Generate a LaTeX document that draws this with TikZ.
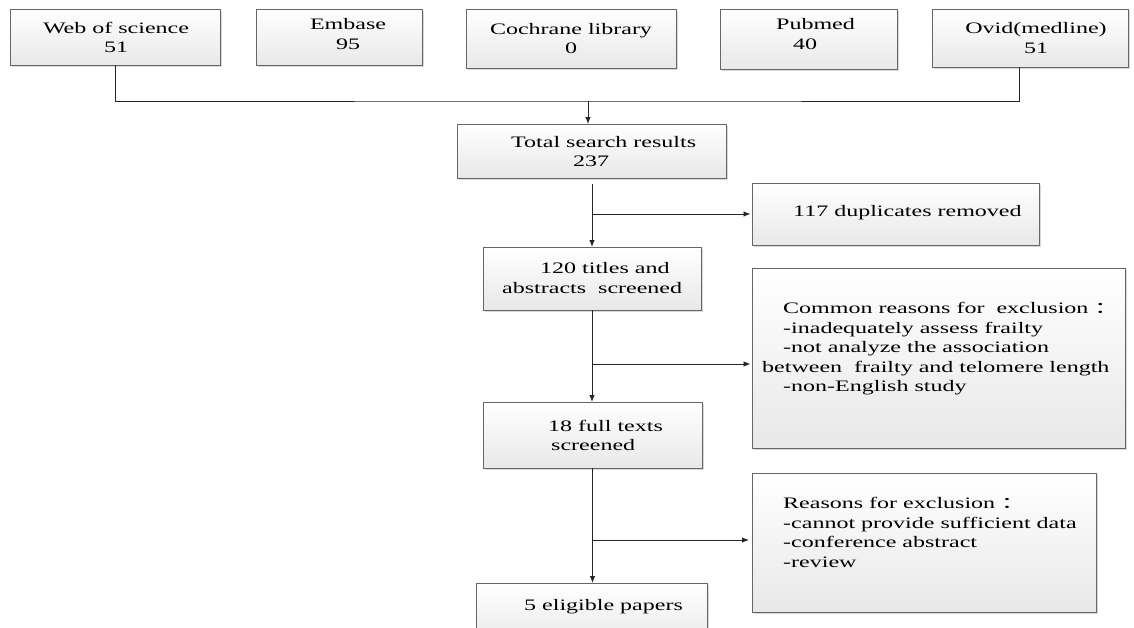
\documentclass[tikz,border=0pt]{standalone}
\usepackage{graphicx}
\usepackage{fontspec}
\setmainfont{Liberation Serif}
\newfontfamily\cjk{Noto Sans CJK SC}
\usetikzlibrary{arrows.meta,shadows,calc}
\newcommand{\sx}[1]{\scalebox{1.5}[1]{#1}}
\newcommand{\fcolon}{{\cjk ：}}
\begin{document}
\begin{tikzpicture}[x=1pt,y=-1pt,
  box/.style={draw=black!60, line width=0.9pt, inner sep=0pt, outer sep=0pt,
    top color=white, bottom color=black!9,
    drop shadow={shadow xshift=2pt, shadow yshift=-2pt, fill=black!30, opacity=0.5}},
  txt/.style={inner sep=0pt, font=\fontsize{16}{19.5}\selectfont, text=black},
  conn/.style={draw=black!85, line width=0.9pt},
  arr/.style={conn, -{Latex[length=7pt,width=5.5pt]}}]
\useasboundingbox (0,0) rectangle (1134,627);
\fill[white] (0,0) rectangle (1134,627);
\clip (0,0) rectangle (1134,627);

% boxes
\node[box, minimum width=210pt, minimum height=56pt] (web) at (115,37) {};
\node[box, minimum width=166pt, minimum height=56pt] (emb) at (339,37) {};
\node[box, minimum width=210pt, minimum height=59pt] (coch) at (571,38.5) {};
\node[box, minimum width=177pt, minimum height=60pt] (pub) at (808.5,39) {};
\node[box, minimum width=196pt, minimum height=58pt] (ovid) at (1030,38) {};
\node[box, minimum width=269pt, minimum height=54pt] (total) at (591.5,151) {};
\node[box, minimum width=287pt, minimum height=62pt] (dup) at (895.5,214) {};
\node[box, minimum width=218pt, minimum height=63pt] (b120) at (592,278.5) {};
\node[box, minimum width=373pt, minimum height=180pt] (common) at (938.5,358) {};
\node[box, minimum width=219pt, minimum height=66pt] (b18) at (592.5,435) {};
\node[box, minimum width=344pt, minimum height=139pt] (reasons) at (924,542.5) {};
\node[box, minimum width=231pt, minimum height=62pt] (elig) at (591.5,614) {};

% texts
\node[txt, align=center] (webT) at (116,37.5) {\sx{Web of science}\\\sx{51}};
\node[txt, align=center] (embT) at (348,34) {\sx{Embase}\\\sx{95}};
\node[txt, align=center] (cochT) at (571,38.5) {\sx{Cochrane library}\\\sx{0}};
\node[txt, align=left, anchor=west] (pubT) at (776,34) {\sx{Pubmed}\\\hspace*{17pt}\sx{40}};
\node[txt, align=center] (ovidT) at (1036,38) {\sx{Ovid(medline)}\\\sx{51}};
\node[txt, align=left, anchor=west] (totalT) at (511,151.5) {\sx{Total search results}\\\hspace*{62pt}\sx{237}};
\node[txt, anchor=west] (dupT) at (793,213) {\sx{117 duplicates removed}};
\node[txt, align=left, anchor=west] (b120T) at (502,278) {\hspace*{38pt}\sx{120 titles and}\\\sx{abstracts~ screened}};
\node[txt, align=left, anchor=west] (commonT) at (762,349) {%
  \hspace*{21pt}\sx{Common reasons for~ exclusion \fcolon}\\
  \hspace*{21pt}\sx{-inadequately assess frailty}\\
  \hspace*{21pt}\sx{-not analyze the association}\\
  \sx{between~ frailty and telomere length}\\
  \hspace*{21pt}\sx{-non-English study}};
\node[txt, align=left, anchor=west] (b18T) at (548,435.5) {\sx{18 full texts}\\\hspace*{3pt}\sx{screened}};
\node[txt, align=left, anchor=west] (reasonsT) at (783,532.5) {%
  \sx{Reasons for exclusion \fcolon}\\
  \sx{-cannot provide sufficient data}\\
  \sx{-conference abstract}\\
  \sx{-review}};
\node[txt, anchor=center] (eligT) at (603.5,607) {\sx{5 eligible papers}};

% connectors
\coordinate (j1) at (588,101);
\coordinate (ovidin) at ($(ovid.south west)+(87,0)$);
\draw[conn] (web.south) |- (j1) -| (ovidin);
\draw[arr] (j1) -- (j1 |- total.north);
\coordinate (t0) at ($(total.south)+(0.5,6)$);
\draw[arr] (t0) -- (t0 |- b120.north);
\coordinate (jd) at (t0 |- dup.west);
\draw[arr, shorten >=1.5pt] (jd) -- (dup.west);
\draw[arr] (b120.south) -- (b120.south |- b18.north);
\coordinate (jc) at ($(b120.south)+(0,54)$);
\draw[arr, shorten >=1.5pt] (jc) -- (jc -| common.west);
\draw[arr] (b18.south) -- (b18.south |- elig.north);
\coordinate (jr) at ($(b18.south)+(0,72)$);
\draw[arr, shorten >=3pt] (jr) -- (jr -| reasons.west);
\end{tikzpicture}
\end{document}
